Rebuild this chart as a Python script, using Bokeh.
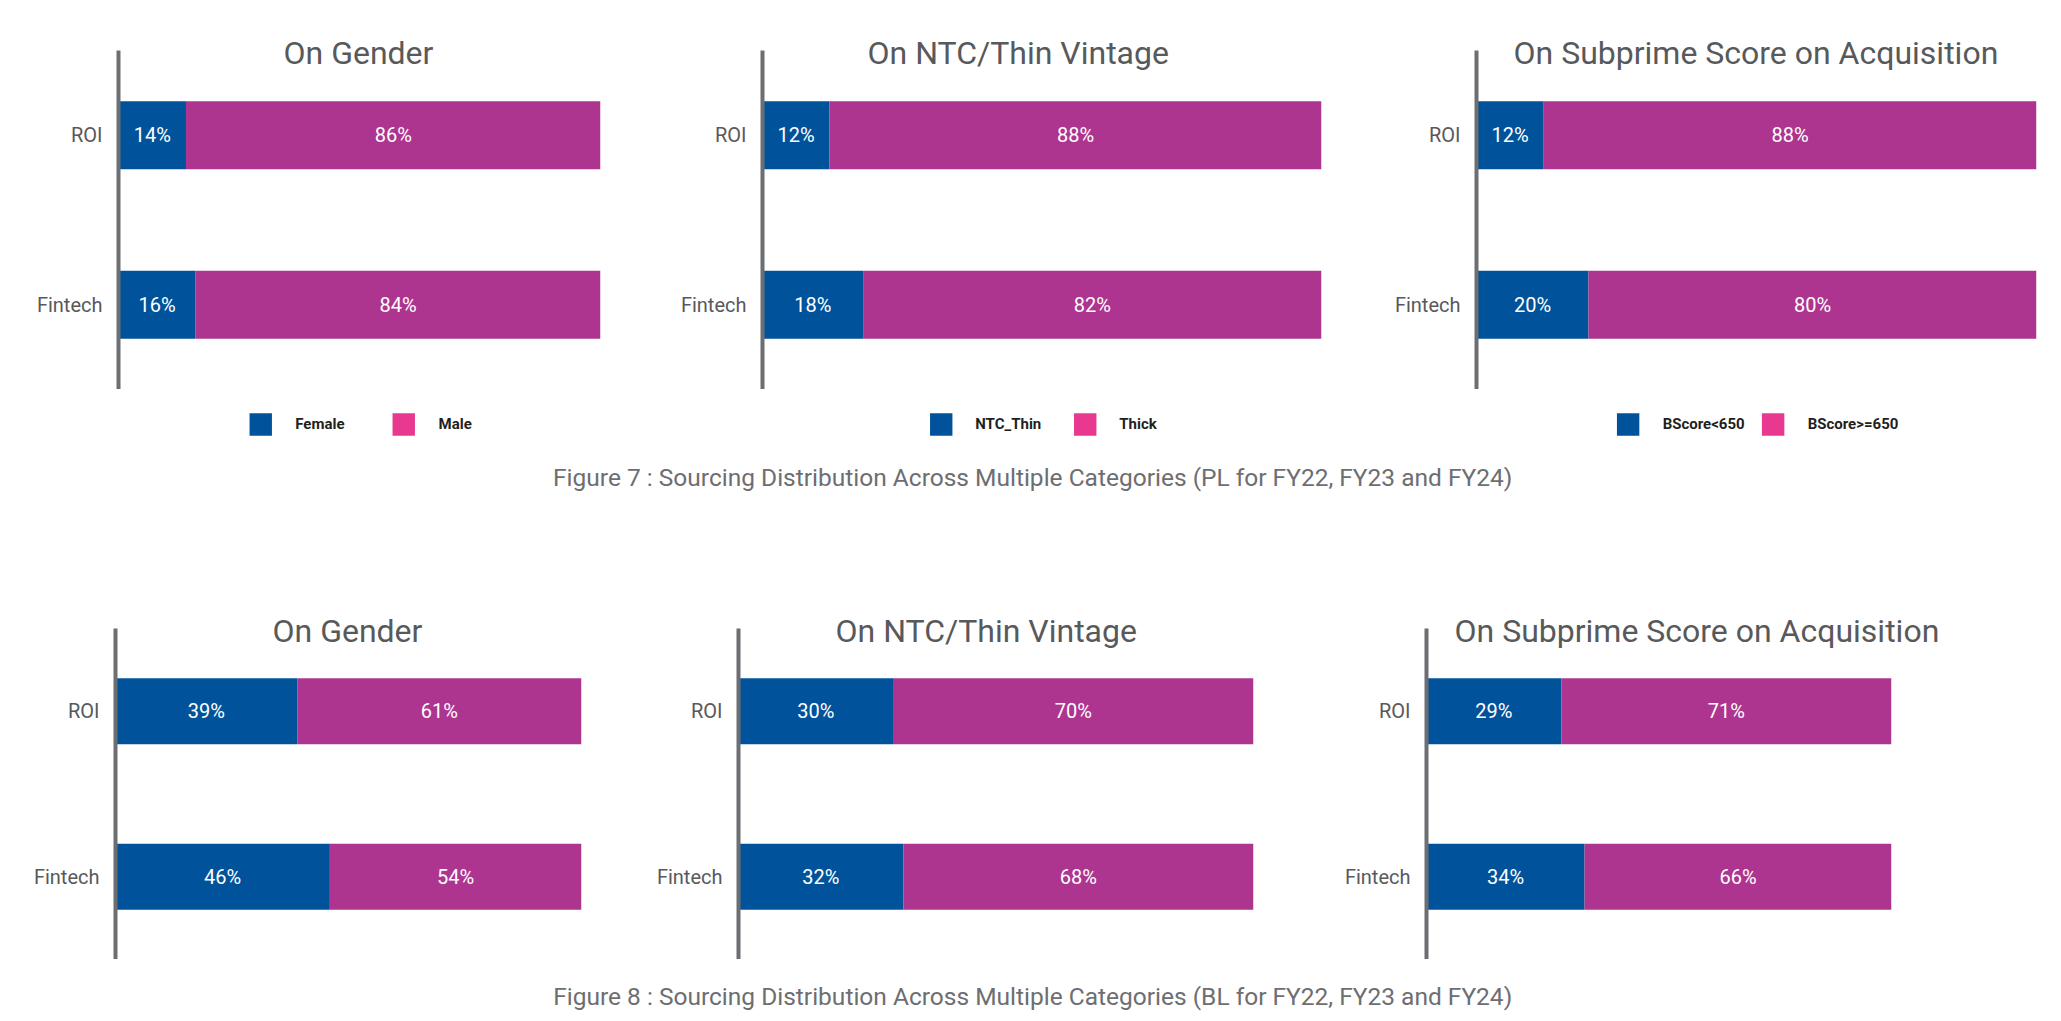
from bokeh.plotting import figure
from bokeh.models import ColumnDataSource, FactorRange, Range1d, Legend, LegendItem, Label, Title
from bokeh.layouts import row, column
from bokeh.embed import file_html
from bokeh.resources import INLINE
from bokeh.core.properties import value

# ---------------- data ----------------
categories = ["ROI", "Fintech"]

panel_titles = ["On Gender", "On NTC/Thin Vintage", "On Subprime Score on Acquisition"]
legend_labels = [["Female", "Male"], ["NTC_Thin", "Thick"], ["BScore<650", "BScore>=650"]]

pl_gender_female = [14, 16]
pl_gender_male = [86, 84]
pl_ntc_thin = [12, 18]
pl_ntc_thick = [88, 82]
pl_bscore_low = [12, 20]
pl_bscore_high = [88, 80]

bl_gender_female = [39, 46]
bl_gender_male = [61, 54]
bl_ntc_thin = [30, 32]
bl_ntc_thick = [70, 68]
bl_bscore_low = [29, 34]
bl_bscore_high = [71, 66]

caption_pl = "Figure 7 : Sourcing Distribution Across Multiple Categories (PL for FY22, FY23 and FY24)"
caption_bl = "Figure 8 : Sourcing Distribution Across Multiple Categories (BL for FY22, FY23 and FY24)"

# ---------------- style ----------------
BLUE = "#00539b"
MAGENTA = "#ad3590"
PINK = "#e8388f"
AXIS_GRAY = "#6d6e71"
TEXT_GRAY = "#58595b"
CAPTION_GRAY = "#6d6e71"
LEGEND_TEXT = "#231f20"
FONT = "Roboto"
TITLE_STANDOFF = -43
PAGE_W = 2052


def make_source(first, second):
    return ColumnDataSource(data=dict(
        cat=categories,
        first=first,
        second=second,
        total=[a + b for a, b in zip(first, second)],
        first_mid=[a / 2 for a in first],
        second_mid=[a + b / 2 for a, b in zip(first, second)],
        first_lbl=[f"{a}%" for a in first],
        second_lbl=[f"{b}%" for b in second],
    ))


def make_panel(title, src, frame_w, frame_h, left, right, top, title_offset):
    p = figure(y_range=FactorRange(factors=categories[::-1]), x_range=Range1d(0, 100),
               width=left + frame_w + right, height=top + frame_h,
               min_border_left=left, min_border_right=right,
               min_border_top=top, min_border_bottom=0,
               x_axis_location=None, toolbar_location=None, tools="",
               output_backend="svg")
    p.title = Title(text=title, align="left", offset=title_offset, standoff=TITLE_STANDOFF,
                    vertical_align="bottom", text_font=FONT, text_font_size="32px",
                    text_font_style="normal", text_color=TEXT_GRAY)
    p.outline_line_color = None
    p.grid.visible = False
    p.background_fill_color = "white"
    p.border_fill_color = "white"

    p.hbar(y="cat", left=0, right="first", height=0.4, source=src,
           fill_color=BLUE, line_color=None)
    p.hbar(y="cat", left="first", right="total", height=0.4, source=src,
           fill_color=MAGENTA, line_color=None)
    p.text(x="first_mid", y="cat", text="first_lbl", source=src,
           text_font=value(FONT), text_font_size="20px", text_color="white",
           text_align="center", text_baseline="middle")
    p.text(x="second_mid", y="cat", text="second_lbl", source=src,
           text_font=value(FONT), text_font_size="20px", text_color="white",
           text_align="center", text_baseline="middle")

    ax = p.yaxis[0]
    ax.axis_line_width = 4
    ax.axis_line_color = AXIS_GRAY
    ax.major_tick_line_color = None
    ax.minor_tick_line_color = None
    ax.major_tick_out = 0
    ax.major_tick_in = 0
    ax.major_label_standoff = 16
    ax.major_label_text_font = FONT
    ax.major_label_text_font_size = "20px"
    ax.major_label_text_color = TEXT_GRAY
    return p


def make_legend_strip(labels, src, frame_w, left, right, spacing):
    f = figure(y_range=FactorRange(factors=categories[::-1]), x_range=Range1d(0, 100),
               width=left + frame_w + right, height=70,
               min_border_left=left, min_border_right=right,
               min_border_top=0, min_border_bottom=0,
               x_axis_location=None, y_axis_location=None,
               toolbar_location=None, tools="", output_backend="svg")
    f.outline_line_color = None
    f.grid.visible = False
    # zero-height bars: they only give the legend its swatches
    r1 = f.hbar(y="cat", left=0, right="first", height=0, source=src,
                fill_color=BLUE, line_color=None)
    r2 = f.hbar(y="cat", left="first", right="total", height=0, source=src,
                fill_color=PINK, line_color=None)
    legend = Legend(items=[LegendItem(label=labels[0], renderers=[r1]),
                           LegendItem(label=labels[1], renderers=[r2])],
                    orientation="horizontal", location="center",
                    glyph_width=28, glyph_height=28, label_standoff=21,
                    spacing=spacing, padding=10, margin=0, label_width=0,
                    label_text_font=FONT, label_text_font_size="15px",
                    label_text_font_style="bold", label_text_color=LEGEND_TEXT,
                    border_line_color=None, background_fill_alpha=0)
    f.add_layout(legend, "center")
    return f


src_t = [make_source(pl_gender_female, pl_gender_male),
         make_source(pl_ntc_thin, pl_ntc_thick),
         make_source(pl_bscore_low, pl_bscore_high)]
src_b = [make_source(bl_gender_female, bl_gender_male),
         make_source(bl_ntc_thin, bl_ntc_thick),
         make_source(bl_bscore_low, bl_bscore_high)]

# geometry: frame width, left border, right border, title offset, legend spacing
top_geo = [(482, 118, 68, 165, 45), (559, 94, 67, 105, 29), (560, 88, 16, 37, 14)]
bot_geo = [(466, 115, 57, 157), (515, 100, 75, 97), (465, 98, 161, 28)]

top_panels = [make_panel(panel_titles[i], src_t[i], g[0], 339, g[1], g[2], 50, g[3])
              for i, g in enumerate(top_geo)]
legend_strips = [make_legend_strip(legend_labels[i], src_t[i], g[0], g[1], g[2], g[4])
                 for i, g in enumerate(top_geo)]
bot_panels = [make_panel(panel_titles[i], src_b[i], g[0], 331, g[1], g[2], 60, g[3])
              for i, g in enumerate(bot_geo)]


def make_caption(text, height, baseline_y):
    c = figure(width=PAGE_W, height=height, x_range=Range1d(0, 1), y_range=Range1d(0, 1),
               x_axis_location=None, y_axis_location=None, min_border=0,
               toolbar_location=None, tools="", output_backend="svg")
    c.outline_line_color = None
    c.grid.visible = False
    c.add_layout(Label(x=0.503, y=baseline_y, x_units="data", y_units="screen",
                       text=text, text_font=FONT, text_font_size="24.5px",
                       text_color=CAPTION_GRAY, text_align="center",
                       text_baseline="alphabetic"))
    return c


cap1 = make_caption(caption_pl, 109, 91)
cap2 = make_caption(caption_bl, 60, 23)

layout = column(row(*top_panels), row(*legend_strips), cap1, row(*bot_panels), cap2)

open("out.html", "w").write(file_html(layout, INLINE))
